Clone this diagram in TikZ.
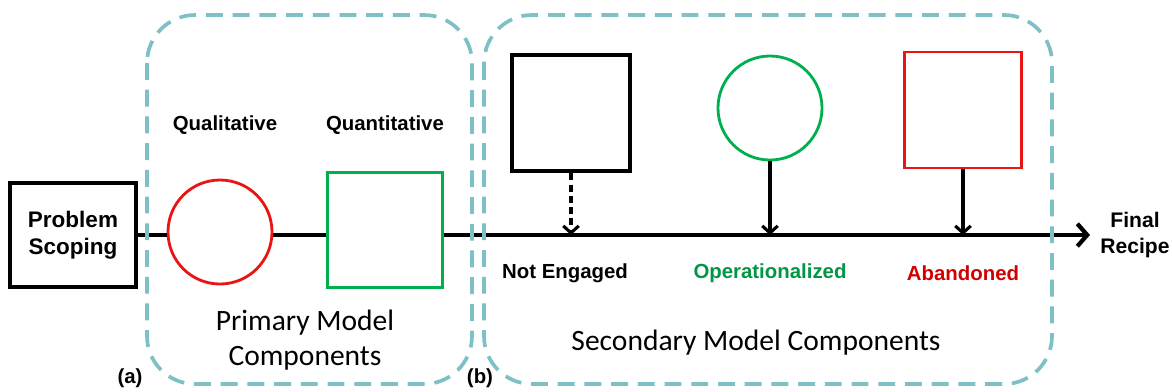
\documentclass[tikz,border=0pt]{standalone}
\usepackage{fontspec}
\setmainfont{Liberation Sans}
\newfontfamily\calibri{Carlito}
\usetikzlibrary{arrows.meta,positioning}
\definecolor{teal}{RGB}{125,192,198}
\definecolor{myred}{RGB}{235,20,20}
\definecolor{mygreen}{RGB}{0,176,80}
\definecolor{txtgreen}{RGB}{0,150,70}
\definecolor{txtred}{RGB}{210,0,0}
\tikzset{
  blackbox/.style={draw=black, line width=2.8pt, fill=white, minimum width=2.95cm, minimum height=2.92cm},
  redcirc/.style={circle, draw=myred, line width=2pt, fill=white, minimum size=2.6cm},
  greencirc/.style={circle, draw=mygreen, line width=2pt, fill=white, minimum size=2.6cm},
  label/.style={font=\bfseries\fontsize{14.5}{17}\selectfont, align=center},
  biglabel/.style={font=\calibri\fontsize{21}{25}\selectfont, align=center},
  groupbox/.style={draw=teal, line width=2.6pt, dash pattern=on 12pt off 7pt, rounded corners=1.2cm},
  mainline/.style={line width=3pt, black},
  droparrow/.style={line width=2.2pt, -{Straight Barb[length=5pt,width=11pt]}},
}
\begin{document}
\begin{tikzpicture}[x=0.025cm, y=-0.025cm]
    \useasboundingbox (0,0) rectangle (1172,391);
    % Nodes
    \node[blackbox, minimum width=3.15cm, minimum height=2.62cm, label, font=\bfseries\fontsize{16}{19}\selectfont] (ps) at (73,235) {Problem\\Scoping};
    \node[redcirc] (qual) at (220,232) {};
    \node[blackbox, draw=mygreen, line width=2pt, minimum width=2.88cm, minimum height=2.88cm] (quant) at (385,230) {};
    \node[label] (qualtxt) at (225,125) {Qualitative};
    \node[label] (quanttxt) at (385,125) {Quantitative};
    \node[blackbox] (neng) at (571,113) {};
    \node[greencirc] (oper) at (770,108) {};
    \node[blackbox, draw=myred, line width=2pt, minimum width=2.92cm, minimum height=2.9cm] (aban) at (963,110) {};
    \node[label, font=\bfseries\fontsize{15}{18}\selectfont] (final) at (1135,235) {Final\\Recipe};
    % Coordinate
    \coordinate (tip) at (1090,235);
    \coordinate (neng-pt) at (571,235);
    \coordinate (oper-pt) at (770,235);
    \coordinate (aban-pt) at (963,235);
    % Linee
    \draw[mainline] (ps.east) -- (qual.west |- ps.east);
    \draw[mainline] (qual.east |- ps.east) -- (quant.west |- ps.east);
    \draw[mainline, -{Straight Barb[length=7pt,width=16pt]}] (quant.east |- ps.east) -- (tip);
    \draw[droparrow, dash pattern=on 5pt off 3pt] (neng.south) -- (neng-pt);
    \draw[droparrow] (oper.south) -- (oper-pt);
    \draw[droparrow] (aban.south) -- (aban-pt);
    % Writing space
    \node[label] (nengtxt) at (565,273) {Not Engaged};
    \node[label, text=txtgreen] (opertxt) at (770,273) {Operationalized};
    \node[label, text=txtred] (abantxt) at (963,273) {Abandoned};
    \node[biglabel] (primary) at (305,340) {Primary Model\\Components};
    \node[biglabel] (secondary) at (756,343) {Secondary Model Components};
    \node[label] (a) at (130,378) {(a)};
    \node[label] (b) at (480,378) {(b)};
    % Groups
    \draw[groupbox] (147,15) rectangle (472,384);
    \draw[groupbox] (484,15) rectangle (1052,384);
\end{tikzpicture}
\end{document}
